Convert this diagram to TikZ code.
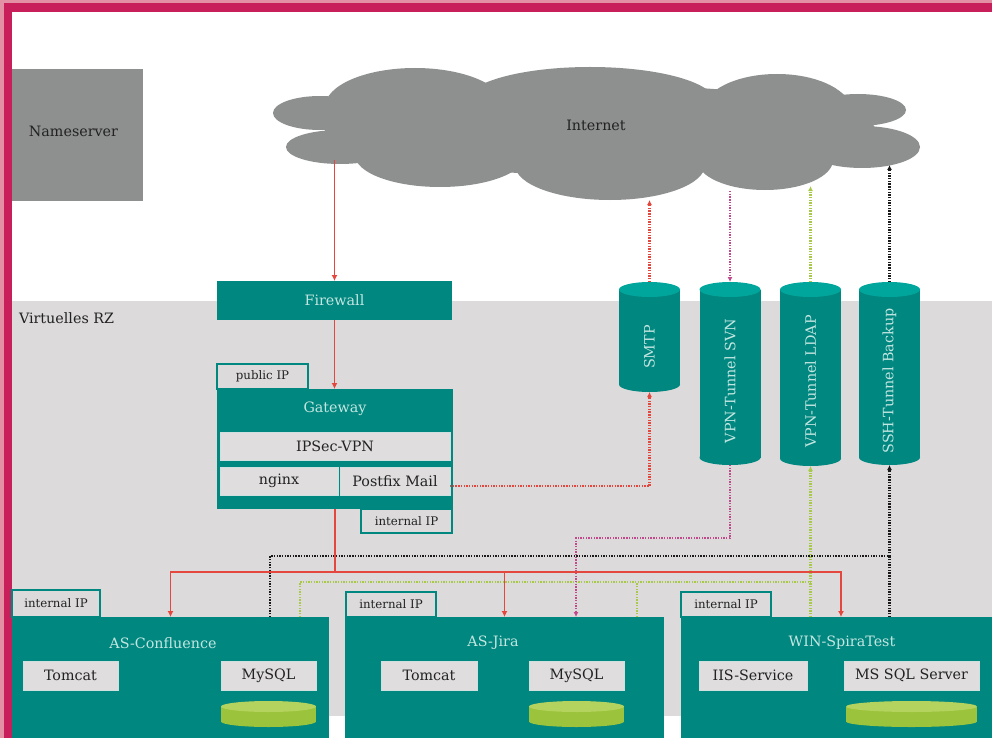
\documentclass[tikz,border=0pt]{standalone}
\usepackage{fontspec}
\setmainfont{DejaVu Serif}
\usetikzlibrary{arrows.meta}
\definecolor{tealc}{HTML}{00877F}
\definecolor{cyltop}{HTML}{00A69C}
\definecolor{titletext}{HTML}{C4E6E2}
\definecolor{lightfill}{HTML}{DFDDDD}
\definecolor{lightedge}{HTML}{CFE0DE}
\definecolor{darktext}{HTML}{222222}
\definecolor{bggray}{HTML}{DCDADA}
\definecolor{cloudgray}{HTML}{8E8F8F}
\definecolor{diskbody}{HTML}{9BC33B}
\definecolor{disktop}{HTML}{B3D35E}
\definecolor{pinklight}{HTML}{E390A5}
\definecolor{magentac}{HTML}{C81F5B}
\definecolor{redc}{HTML}{E3473E}
\definecolor{svnc}{HTML}{C04A8C}
\definecolor{ldapc}{HTML}{A9C94A}
\definecolor{sshc}{HTML}{1A1A1A}
\newcommand\myMain{\fontsize{14.3pt}{16pt}\selectfont}
\newcommand\myTab{\fontsize{11.8pt}{13pt}\selectfont}
\tikzset{
  box/.style={rectangle, inner sep=0pt, outer sep=0pt, font=\myMain},
  tealbox/.style={box, fill=tealc, text=titletext},
  titletxt/.style={box, text=titletext},
  darktxt/.style={box, text=darktext},
  lightbox/.style={box, fill=lightfill, draw=lightedge, line width=0.8pt, text=darktext},
  tabbox/.style={box, fill=bggray, draw=tealc, line width=1.2pt, text=darktext, font=\myTab},
  cylframe/.style={box, minimum width=61pt},
  cyltxt/.style={box, rotate=90, text=titletext},
  redline/.style={draw=redc, line width=1.3pt},
  redarrow/.style={redline, -{Latex[length=6pt,width=6pt]}},
  dotl/.style={line width=2.2pt, dash pattern=on 1.4pt off 1.3pt},
  smtpline/.style={dotl, draw=redc},
  svnline/.style={dotl, draw=svnc},
  ldapline/.style={dotl, draw=ldapc},
  sshline/.style={dotl, draw=sshc},
  dotarrow/.style={-{Latex[length=5pt,width=5pt]}}
}
\begin{document}
\begin{tikzpicture}[x=1pt,y=-1pt]
\useasboundingbox (0,0) rectangle (992,738);
% background
\fill[pinklight] (0,0) rectangle (992,738);
\fill[magentac] (4,3) rectangle (992,738);
\fill[white] (12,12) rectangle (992,738);
\fill[bggray] (12,301) rectangle (992,716);
\node[darktxt, anchor=west] (rz) at (19,318) {Virtuelles RZ};

% nameserver
\node[box, fill=cloudgray, minimum width=131pt, minimum height=132pt] (ns) at (77.5,135) {};
\node[darktxt] (nstxt) at (73.5,131) {Nameserver};

% cloud
\fill[cloudgray] (320,113) ellipse (47pt and 17pt);
\fill[cloudgray] (340,147) ellipse (54pt and 17pt);
\fill[cloudgray] (415,107) ellipse (90pt and 39pt);
\fill[cloudgray] (590,102) ellipse (125pt and 35pt);
\fill[cloudgray] (777,112) ellipse (75pt and 38pt);
\fill[cloudgray] (858,110) ellipse (48pt and 16pt);
\fill[cloudgray] (862,147) ellipse (58pt and 21pt);
\fill[cloudgray] (440,155) ellipse (85pt and 32pt);
\fill[cloudgray] (610,165) ellipse (95pt and 35pt);
\fill[cloudgray] (765,160) ellipse (68pt and 30pt);
\fill[cloudgray] (600,130) ellipse (275pt and 45pt);
\node[darktxt] (internet) at (596,125) {Internet};

% firewall and gateway
\node[tealbox, minimum width=235pt, minimum height=39pt] (firewall) at (334.5,300.5) {Firewall};
\node[tabbox, minimum width=91pt, minimum height=25pt] (publicip) at (262.5,376.5) {public IP};
\node[tabbox, minimum width=91pt, minimum height=24pt] (gwint) at (406.5,521) {internal IP};
\node[tealbox, minimum width=236pt, minimum height=120pt] (gateway) at (335,449) {};
\node[titletxt] (gwtitle) at (335,409) {Gateway};
\node[lightbox, minimum width=230pt, minimum height=28pt] (ipsec) at (335,446) {IPSec-VPN};
\node[lightbox, minimum width=118pt, minimum height=28pt] (nginx) at (279,481) {nginx};
\node[lightbox, minimum width=110pt, minimum height=28pt] (postfix) at (395,481) {Postfix Mail};

% cylinders
\node[cylframe, minimum height=110pt] (smtp) at (649.5,337) {};
\fill[tealc] ([yshift=-7.5pt]smtp.north west) rectangle ([yshift=7.5pt]smtp.south east);
\fill[tealc] ([yshift=7.5pt]smtp.south) ellipse (30.5pt and 7.5pt);
\fill[cyltop] ([yshift=-7.5pt]smtp.north) ellipse (30.5pt and 7.5pt);
\node[cyltxt] (smtptxt) at ([yshift=-10pt]smtp.center) {SMTP};

\node[cylframe, minimum height=183pt] (svn) at (730,373.5) {};
\fill[tealc] ([yshift=-7.5pt]svn.north west) rectangle ([yshift=7.5pt]svn.south east);
\fill[tealc] ([yshift=7.5pt]svn.south) ellipse (30.5pt and 7.5pt);
\fill[cyltop] ([yshift=-7.5pt]svn.north) ellipse (30.5pt and 7.5pt);
\node[cyltxt] (svntxt) at ([yshift=-7.5pt]svn.center) {VPN-Tunnel SVN};

\node[cylframe, minimum height=184pt] (ldap) at (810.5,374) {};
\fill[tealc] ([yshift=-7.5pt]ldap.north west) rectangle ([yshift=7.5pt]ldap.south east);
\fill[tealc] ([yshift=7.5pt]ldap.south) ellipse (30.5pt and 7.5pt);
\fill[cyltop] ([yshift=-7.5pt]ldap.north) ellipse (30.5pt and 7.5pt);
\node[cyltxt] (ldaptxt) at ([yshift=-7.5pt]ldap.center) {VPN-Tunnel LDAP};

\node[cylframe, minimum height=183pt] (ssh) at (889.5,373.5) {};
\fill[tealc] ([yshift=-7.5pt]ssh.north west) rectangle ([yshift=7.5pt]ssh.south east);
\fill[tealc] ([yshift=7.5pt]ssh.south) ellipse (30.5pt and 7.5pt);
\fill[cyltop] ([yshift=-7.5pt]ssh.north) ellipse (30.5pt and 7.5pt);
\node[cyltxt] (sshtxt) at ([yshift=-7.5pt]ssh.center) {SSH-Tunnel Backup};

% AS-Confluence
\node[tabbox, minimum width=88pt, minimum height=27pt] (conftab) at (56,603.5) {internal IP};
\node[tealbox, minimum width=317pt, minimum height=121pt] (conf) at (170.5,677.5) {};
\node[titletxt] (conftitle) at (163,643) {AS-Confluence};
\node[lightbox, minimum width=95pt, minimum height=29pt] (conftomcat) at (70.5,675.5) {Tomcat};
\node[lightbox, minimum width=95pt, minimum height=29pt] (confmysql) at (268.5,675.5) {MySQL};
\node[box, minimum width=95pt, minimum height=26pt] (confdisk) at (268.5,714) {};
\fill[diskbody] ([yshift=-5.5pt]confdisk.north west) rectangle ([yshift=5.5pt]confdisk.south east);
\fill[diskbody] ([yshift=5.5pt]confdisk.south) ellipse (47.5pt and 5.5pt);
\fill[disktop] ([yshift=-5.5pt]confdisk.north) ellipse (47.5pt and 5.5pt);

% AS-Jira
\node[tabbox, minimum width=90pt, minimum height=25pt] (jiratab) at (391,604.5) {internal IP};
\node[tealbox, minimum width=319pt, minimum height=121pt] (jira) at (504.5,677.5) {};
\node[titletxt] (jiratitle) at (493,643) {AS-Jira};
\node[lightbox, minimum width=96pt, minimum height=29pt] (jiratomcat) at (429,675.5) {Tomcat};
\node[lightbox, minimum width=95pt, minimum height=29pt] (jiramysql) at (576.5,675.5) {MySQL};
\node[box, minimum width=95pt, minimum height=26pt] (jiradisk) at (576.5,714) {};
\fill[diskbody] ([yshift=-5.5pt]jiradisk.north west) rectangle ([yshift=5.5pt]jiradisk.south east);
\fill[diskbody] ([yshift=5.5pt]jiradisk.south) ellipse (47.5pt and 5.5pt);
\fill[disktop] ([yshift=-5.5pt]jiradisk.north) ellipse (47.5pt and 5.5pt);

% WIN-SpiraTest
\node[tabbox, minimum width=90pt, minimum height=25pt] (wintab) at (726,604.5) {internal IP};
\node[tealbox, minimum width=311pt, minimum height=121pt] (win) at (836.5,677.5) {};
\node[titletxt] (wintitle) at (842,643) {WIN-SpiraTest};
\node[lightbox, minimum width=108pt, minimum height=29pt] (iis) at (753,675.5) {IIS-Service};
\node[lightbox, minimum width=135pt, minimum height=29pt] (mssql) at (911.5,675.5) {MS SQL Server};
\node[box, minimum width=131pt, minimum height=26pt] (windisk) at (911.5,714) {};
\fill[diskbody] ([yshift=-5.5pt]windisk.north west) rectangle ([yshift=5.5pt]windisk.south east);
\fill[diskbody] ([yshift=5.5pt]windisk.south) ellipse (65.5pt and 5.5pt);
\fill[disktop] ([yshift=-5.5pt]windisk.north) ellipse (65.5pt and 5.5pt);

% connector helper coordinates
\coordinate (cfw) at (334.5,160);
\coordinate (csmtp) at (649.5,200);
\coordinate (csvn) at (730,191);
\coordinate (cldap) at (810.5,186);
\coordinate (cssh) at (889.5,165);
\coordinate (rJ) at (335,572);
\coordinate (rW) at (841,572);
\coordinate (mJ) at (576,538);
\coordinate (gL) at (300,582);
\coordinate (gJ) at (637,582);
\coordinate (kL) at (270,556);

% dotted connectors
\draw[ldapline] (conf.north -| gL) -- (gL) -- (ldap.south |- gL);
\draw[ldapline] (jira.north -| gJ) -- (gJ);
\draw[ldapline, dotarrow] (win.north -| ldap.south) -- (ldap.south);
\draw[ldapline, dotarrow] (ldap.north) -- (cldap);
\draw[sshline, dotarrow] (conf.north -| kL) -- (kL) -| (ssh.south);
\draw[sshline] (win.north -| ssh.south) -- (ssh.south |- kL);
\draw[sshline, dotarrow] (ssh.north) -- (cssh);
\draw[svnline, dotarrow] (csvn) -- (svn.north);
\draw[svnline, dotarrow] (svn.south) |- (mJ) -- (jira.north -| mJ);
\draw[smtpline, dotarrow] (smtp.north) -- (csmtp);
\draw[smtpline, dotarrow] ([yshift=-5pt]postfix.east) -| (smtp.south);

% red connectors
\draw[redarrow] (cfw) -- (firewall.north);
\draw[redarrow] (firewall.south) -- (firewall.south |- gateway.north);
\draw[redline] (gateway.south) -- (rJ);
\draw[redarrow] (rJ) -| (conf.north);
\draw[redarrow] (rJ) -| (jira.north);
\draw[redarrow] (rJ) -- (rW) -- (win.north -| rW);
\end{tikzpicture}
\end{document}
